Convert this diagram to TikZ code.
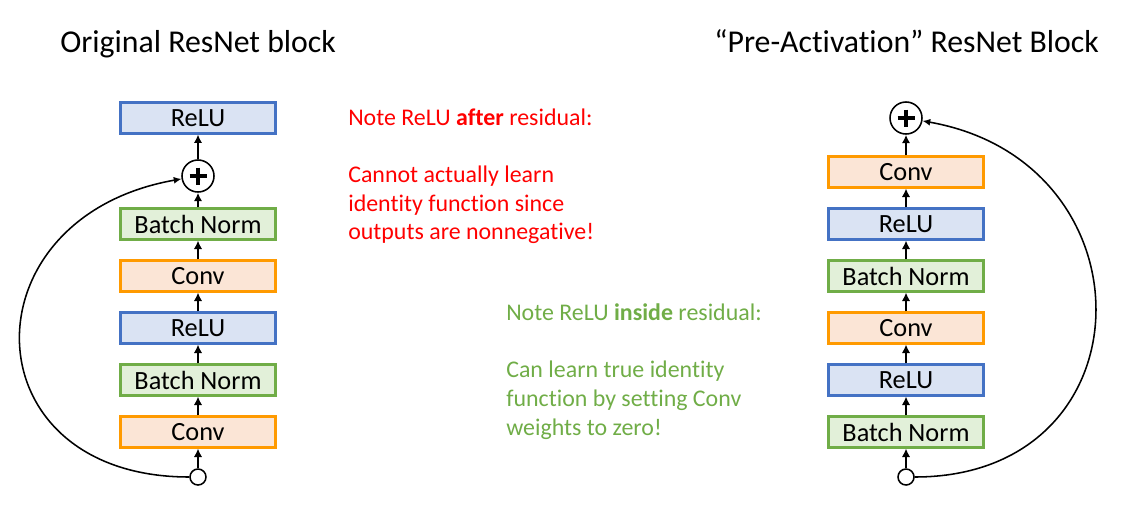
\documentclass[tikz,border=0pt]{standalone}
\usepackage{fontspec}
\setmainfont{Carlito}[Ligatures={TeX,NoCommon}]
\usepackage{tikz}
\usetikzlibrary{arrows.meta}

\definecolor{convfill}{HTML}{FBE5D6}
\definecolor{convedge}{HTML}{FF9A00}
\definecolor{relufill}{HTML}{DAE3F3}
\definecolor{reluedge}{HTML}{4472C4}
\definecolor{bnfill}{HTML}{E2F0D9}
\definecolor{bnedge}{HTML}{70AD47}
\definecolor{notered}{HTML}{FF0000}
\definecolor{notegreen}{HTML}{70AD47}

\newcommand{\boxfont}{\fontsize{18.7}{22}\selectfont}
\newcommand{\titlefont}{\fontsize{22.6}{27}\selectfont}
\newcommand{\notefont}{\fontsize{17}{20}\selectfont}

\tikzset{
    layer/.style={draw, line width=1.5pt, minimum width=3.875cm, minimum height=0.775cm,
                  inner sep=0pt, font=\boxfont},
    conv/.style={layer, draw=convedge, fill=convfill},
    relu/.style={layer, draw=reluedge, fill=relufill},
    bn/.style={layer, draw=bnedge, fill=bnfill},
    sum/.style={circle, draw, line width=1.1pt, minimum size=0.8cm, inner sep=0pt},
    inp/.style={circle, draw, fill=white, line width=1.1pt, minimum size=0.4cm, inner sep=0pt},
    flow/.style={-{Latex[length=6pt,width=6pt]}, line width=1.7pt},
    skip/.style={-{Latex[length=5.5pt,width=5pt]}, line width=1.1pt},
}

\begin{document}
\begin{tikzpicture}[x=0.025cm, y=-0.025cm]
    \useasboundingbox (0,0) rectangle (1128,507);

    % Titles
    \node[anchor=base west, inner sep=0pt, font=\titlefont] (ltitle) at (60,52) {Original ResNet block};
    \node[anchor=base west, inner sep=0pt, font=\titlefont] (rtitle) at (714,52) {“Pre-Activation” ResNet Block};

    % Original block
    \node[inp]  (lin)   at (198,477) {};
    \node[conv] (lconv1) at (198,432) {Conv};
    \node[bn]   (lbn1)   at (198,380) {Batch Norm};
    \node[relu] (lrelu1) at (198,328) {ReLU};
    \node[conv] (lconv2) at (198,276) {Conv};
    \node[bn]   (lbn2)   at (198,224) {Batch Norm};
    \node[sum]  (lsum)   at (198,176) {};
    \node[relu] (lrelu2) at (198,118) {ReLU};
    \draw[line width=2.8pt] (lsum.center) ++(-8.5,0) -- ++(17,0);
    \draw[line width=2.8pt] (lsum.center) ++(0,-8.5) -- ++(0,17);

    \draw[flow] (lin) -- (lconv1);
    \draw[flow] (lconv1) -- (lbn1);
    \draw[flow] (lbn1) -- (lrelu1);
    \draw[flow] (lrelu1) -- (lconv2);
    \draw[flow] (lconv2) -- (lbn2);
    \draw[flow] (lbn2) -- (lsum);
    \draw[flow] (lsum) -- (lrelu2);
    \draw[skip] (lin) to[out=180, in=190, looseness=1.9] (lsum);

    % Pre-activation block
    \node[inp]  (rin)    at (906,477) {};
    \node[bn]   (rbn1)   at (906,432) {Batch Norm};
    \node[relu] (rrelu1) at (906,380) {ReLU};
    \node[conv] (rconv1) at (906,328) {Conv};
    \node[bn]   (rbn2)   at (906,276) {Batch Norm};
    \node[relu] (rrelu2) at (906,224) {ReLU};
    \node[conv] (rconv2) at (906,172) {Conv};
    \node[sum]  (rsum)   at (906,118) {};
    \draw[line width=2.8pt] (rsum.center) ++(-8.5,0) -- ++(17,0);
    \draw[line width=2.8pt] (rsum.center) ++(0,-8.5) -- ++(0,17);

    \draw[flow] (rin) -- (rbn1);
    \draw[flow] (rbn1) -- (rrelu1);
    \draw[flow] (rrelu1) -- (rconv1);
    \draw[flow] (rconv1) -- (rbn2);
    \draw[flow] (rbn2) -- (rrelu2);
    \draw[flow] (rrelu2) -- (rconv2);
    \draw[flow] (rconv2) -- (rsum);
    \draw[skip] (rin) to[out=0, in=-10, looseness=1.7] (rsum);

    % Notes
    \node[anchor=base west, inner sep=0pt, font=\notefont, text=notered] (rednote1) at (348,125) {Note ReLU \textbf{after} residual:};
    \node[anchor=base west, inner sep=0pt, font=\notefont, text=notered] (rednote2) at (348,182.5) {Cannot actually learn};
    \node[anchor=base west, inner sep=0pt, font=\notefont, text=notered] (rednote3) at (348,211) {identity function since};
    \node[anchor=base west, inner sep=0pt, font=\notefont, text=notered] (rednote4) at (348,239) {outputs are nonnegative!};

    \node[anchor=base west, inner sep=0pt, font=\notefont, text=notegreen] (greennote1) at (506,320) {Note ReLU \textbf{inside} residual:};
    \node[anchor=base west, inner sep=0pt, font=\notefont, text=notegreen] (greennote2) at (506,377.5) {Can learn true identity};
    \node[anchor=base west, inner sep=0pt, font=\notefont, text=notegreen] (greennote3) at (506,406.5) {function by setting Conv};
    \node[anchor=base west, inner sep=0pt, font=\notefont, text=notegreen] (greennote4) at (506,435) {weights to zero!};
\end{tikzpicture}
\end{document}
